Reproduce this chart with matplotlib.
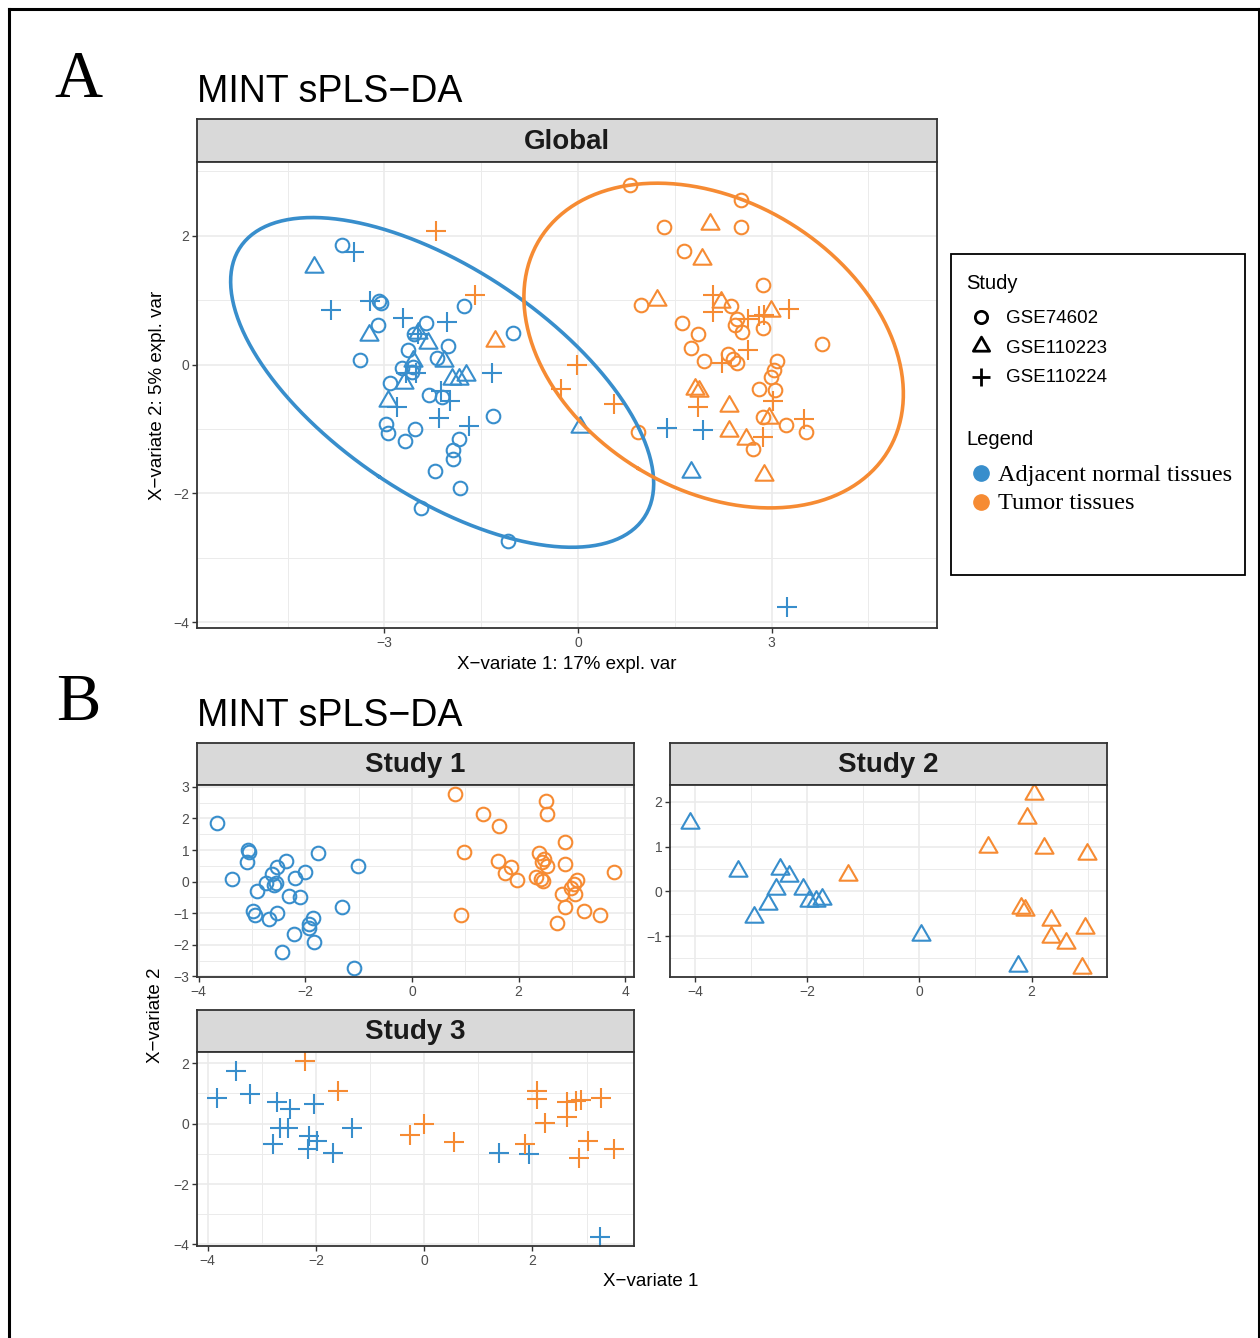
import numpy as np
import matplotlib
matplotlib.use("Agg")
import matplotlib.pyplot as plt
from matplotlib.path import Path
from matplotlib.patches import Rectangle, Polygon
from matplotlib.lines import Line2D

plt.rcParams['font.family'] = ['Liberation Sans', 'DejaVu Sans']

# ---------------- data ----------------
studies = ["GSE74602", "GSE110223", "GSE110224"]
classes = ["Adjacent normal tissues", "Tumor tissues"]
panel_titles = ["Study 1", "Study 2", "Study 3"]

# Study 1 (GSE74602) - circles
s1_normal_x = [-3.66, -3.08, -3.06, -3.10, -3.38, -1.77, -1.01, -2.36, -2.54, -2.63,
               -2.73, -2.58, -2.56, -2.91, -2.19, -2.01, -2.31, -2.11, -2.98, -2.94,
               -2.68, -2.53, -1.85, -1.94, -1.94, -1.32, -2.21, -1.83, -2.43, -1.08]
s1_normal_y = [1.86, 0.99, 0.95, 0.61, 0.07, 0.91, 0.49, 0.64, 0.47, 0.23,
               -0.05, -0.11, -0.04, -0.29, 0.10, 0.29, -0.47, -0.50, -0.92, -1.07,
               -1.18, -1.00, -1.16, -1.33, -1.47, -0.80, -1.66, -1.91, -2.22, -2.74]
s1_tumor_x = [0.81, 2.52, 2.53, 1.34, 1.64, 2.875, 0.97, 2.375, 2.47, 2.54,
              2.44, 2.875, 3.79, 1.61, 1.86, 1.75, 1.96, 2.33, 2.41, 2.46,
              3.09, 3.04, 2.99, 3.06, 2.81, 2.875, 3.22, 3.53, 2.71, 0.925]
s1_tumor_y = [2.78, 2.55, 2.13, 2.13, 1.76, 1.24, 0.93, 0.91, 0.70, 0.51,
              0.61, 0.57, 0.32, 0.64, 0.47, 0.26, 0.05, 0.16, 0.09, 0.02,
              0.05, -0.09, -0.19, -0.40, -0.38, -0.81, -0.94, -1.05, -1.31, -1.05]

# Study 2 (GSE110223) - triangles
s2_normal_x = [-4.09, -3.24, -2.48, -2.32, -2.56, -2.70, -2.95, -2.07, -1.96, -1.85, -1.73, 0.03, 1.75]
s2_normal_y = [1.52, 0.46, 0.49, 0.34, 0.05, -0.28, -0.57, 0.05, -0.22, -0.22, -0.17, -0.97, -1.67]
s2_tumor_x = [-1.28, 2.04, 1.92, 1.23, 2.22, 2.99, 1.82, 1.88, 2.34, 2.96, 2.34, 2.61, 2.89]
s2_tumor_y = [0.37, 2.18, 1.64, 1.00, 0.97, 0.83, -0.38, -0.41, -0.64, -0.83, -1.03, -1.15, -1.72]

# Study 3 (GSE110224) - crosses
s3_normal_x = [-3.47, -3.83, -3.22, -2.72, -2.48, -2.03, -2.67, -2.51, -2.80, -1.34,
               -2.13, -1.98, -2.15, -1.69, 1.38, 1.93, 3.24]
s3_normal_y = [1.75, 0.84, 0.99, 0.72, 0.48, 0.66, -0.13, -0.13, -0.66, -0.13,
               -0.41, -0.57, -0.83, -0.96, -0.98, -1.02, -3.76]
s3_tumor_x = [-2.20, -1.60, -0.27, -0.01, 0.56, 1.86, 2.09, 2.09, 2.23, 2.63,
              2.63, 2.80, 2.89, 3.27, 3.03, 3.51, 2.87]
s3_tumor_y = [2.08, 1.08, -0.38, 0.00, -0.62, -0.66, 1.08, 0.81, 0.03, 0.70,
              0.23, 0.75, 0.77, 0.86, -0.57, -0.85, -1.13]

global_xticks = [-3, 0, 3]
global_yticks = [-4, -2, 0, 2]
s1_xticks = [-4, -2, 0, 2, 4]
s1_yticks = [-3, -2, -1, 0, 1, 2, 3]
s2_xticks = [-4, -2, 0, 2]
s2_yticks = [-1, 0, 1, 2]
s3_xticks = [-4, -2, 0, 2]
s3_yticks = [-4, -2, 0, 2]

# ---------------- style ----------------
BLUE = "#388ECC"
ORANGE = "#F68B33"
W, H, DPI = 1260, 1338, 100

TRI = Path([(0, 1.555), (1.347, -0.778), (-1.347, -0.778), (0, 1.555)],
           [Path.MOVETO, Path.LINETO, Path.LINETO, Path.CLOSEPOLY])
MARK = {0: dict(marker='o', ms=9.8), 1: dict(marker=TRI, ms=15.0), 2: dict(marker='+', ms=14.5)}
MEW = 1.5

fig = plt.figure(figsize=(W / DPI, H / DPI), dpi=DPI)
fig.patch.set_facecolor('white')


def add_ax(l, t, r, b):
    return fig.add_axes([l / W, 1 - b / H, (r - l) / W, (b - t) / H])


def fig_xy(px, py):
    return px / W, 1 - py / H


def strip(l, t, r, b, label):
    ax = add_ax(l, t, r, b)
    ax.set_facecolor("#D9D9D9")
    ax.set_xticks([])
    ax.set_yticks([])
    for s in ax.spines.values():
        s.set_color("#333333")
        s.set_linewidth(1.3)
    ax.text(0.5, 0.47, label, ha='center', va='center', fontsize=20, fontweight='bold',
            color='#1A1A1A', transform=ax.transAxes)
    return ax


def minor_between(ticks, lo, hi):
    step = ticks[1] - ticks[0]
    m = np.arange(ticks[0] - step / 2, ticks[-1] + step, step)
    return [v for v in m if lo <= v <= hi]


def style_panel(ax, xticks, yticks, xlim, ylim):
    ax.set_xlim(xlim)
    ax.set_ylim(ylim)
    ax.set_xticks(xticks)
    ax.set_yticks(yticks)
    ax.set_xticks(minor_between(xticks, *xlim), minor=True)
    ax.set_yticks(minor_between(yticks, *ylim), minor=True)
    ax.grid(which='major', color='#EBEBEB', lw=1.2)
    ax.grid(which='minor', color='#EBEBEB', lw=0.7)
    ax.set_axisbelow(True)
    ax.tick_params(which='major', length=3.5, width=1.0, color='#333333',
                   labelsize=10, labelcolor='#4D4D4D', pad=2)
    ax.tick_params(which='minor', length=0)
    for s in ax.spines.values():
        s.set_color("#333333")
        s.set_linewidth(1.3)


def expand(vals, f=0.05):
    lo, hi = min(vals), max(vals)
    d = (hi - lo) * f
    return (lo - d, hi + d)


def conf_ellipse(x, y, n=300):
    x = np.asarray(x); y = np.asarray(y)
    c = np.cov(x, y)
    vals, vecs = np.linalg.eigh(c)
    t = np.sqrt(-2 * np.log(0.05))
    a = np.linspace(0, 2 * np.pi, n)
    circ = np.stack([np.cos(a), np.sin(a)])
    pts = vecs @ (np.sqrt(vals)[:, None] * circ) * t
    return pts[0] + x.mean(), pts[1] + y.mean()


study_data = [
    (s1_normal_x, s1_normal_y, s1_tumor_x, s1_tumor_y),
    (s2_normal_x, s2_normal_y, s2_tumor_x, s2_tumor_y),
    (s3_normal_x, s3_normal_y, s3_tumor_x, s3_tumor_y),
]


def draw_points(ax, k):
    nx, ny, tx, ty = study_data[k]
    m = MARK[k]
    ax.plot(nx, ny, ls='none', marker=m['marker'], ms=m['ms'], mfc='none', mec=BLUE, mew=MEW)
    ax.plot(tx, ty, ls='none', marker=m['marker'], ms=m['ms'], mfc='none', mec=ORANGE, mew=MEW)


# ---------------- outer frame ----------------
for xs, ys in [([9, 9], [9, H]), ([9, 1259], [9, 9]), ([1259, 1259], [9, H])]:
    fig.add_artist(Line2D([v / W for v in xs], [1 - v / H for v in ys], color='black', lw=2.2))

# panel letters & titles
fig.text(*fig_xy(78, 97), "A", family=['Liberation Serif'], fontsize=48, ha='center', va='baseline')
fig.text(*fig_xy(78, 720), "B", family=['Liberation Serif'], fontsize=48, ha='center', va='baseline')
fig.text(*fig_xy(197, 102), "MINT sPLS\u2212DA", fontsize=27, ha='left', va='baseline')
fig.text(*fig_xy(197, 726), "MINT sPLS\u2212DA", fontsize=27, ha='left', va='baseline')

# ---------------- Global panel ----------------
all_nx = s1_normal_x + s2_normal_x + s3_normal_x
all_ny = s1_normal_y + s2_normal_y + s3_normal_y
all_tx = s1_tumor_x + s2_tumor_x + s3_tumor_x
all_ty = s1_tumor_y + s2_tumor_y + s3_tumor_y
ex_n, ey_n = conf_ellipse(all_nx, all_ny)
ex_t, ey_t = conf_ellipse(all_tx, all_ty)

strip(197, 119, 937, 162, "Global")
axg = add_ax(197, 162, 937, 628)
gx = list(all_nx) + list(all_tx) + list(ex_n) + list(ex_t)
gy = list(all_ny) + list(all_ty) + list(ey_n) + list(ey_t)
style_panel(axg, global_xticks, global_yticks, expand(gx), expand(gy))
for k in range(3):
    draw_points(axg, k)
axg.plot(ex_n, ey_n, color=BLUE, lw=2.6)
axg.plot(ex_t, ey_t, color=ORANGE, lw=2.6)
fig.text(*fig_xy(567, 669), "X\u2212variate 1: 17% expl. var", fontsize=13.5, ha='center',
         va='baseline', color='black')
fig.text(*fig_xy(157, 395), "X\u2212variate 2: 5% expl. var", fontsize=13.5, ha='center',
         va='center', rotation=90, color='black')

# legend box
fig.add_artist(Rectangle((951 / W, 1 - 575 / H), (1245 - 951) / W, (575 - 254) / H,
                         transform=fig.transFigure, fill=False, ec='black', lw=1.3))
fig.text(*fig_xy(966, 289), "Study", fontsize=14.5, ha='left', va='baseline')
leg_y = [317, 346, 377]
leg_base = [323, 353, 382]
for k in range(3):
    m = MARK[k]
    fx_, fy_ = fig_xy(981, leg_y[k])
    fig.add_artist(Line2D([fx_], [fy_], ls='none', marker=m['marker'], ms=m['ms'] * 0.9,
                          mfc='none', mec='black', mew=2.0))
    fig.text(*fig_xy(1006, leg_base[k]), studies[k], fontsize=13.5, ha='left', va='baseline')
fig.text(*fig_xy(966, 445), "Legend", fontsize=14.5, ha='left', va='baseline')
for i, (col, yy, yb) in enumerate([(BLUE, 473, 481), (ORANGE, 502, 509)]):
    fx_, fy_ = fig_xy(981, yy)
    fig.add_artist(Line2D([fx_], [fy_], ls='none', marker='o', ms=11, mfc=col, mec=col))
    fig.text(*fig_xy(998, yb), classes[i], family=['Liberation Serif'], fontsize=17.5,
             ha='left', va='baseline')

# ---------------- Study panels ----------------
panel_boxes = [
    ((197, 743, 634, 785), (197, 785, 634, 977), s1_xticks, s1_yticks),
    ((670, 743, 1107, 785), (670, 785, 1107, 977), s2_xticks, s2_yticks),
    ((197, 1010, 634, 1052), (197, 1052, 634, 1246), s3_xticks, s3_yticks),
]
for k, (sb, ab, xt, yt) in enumerate(panel_boxes):
    strip(*sb, panel_titles[k])
    ax = add_ax(*ab)
    nx, ny, tx, ty = study_data[k]
    style_panel(ax, xt, yt, expand(nx + tx), expand(ny + ty))
    draw_points(ax, k)

fig.text(*fig_xy(651, 1286), "X\u2212variate 1", fontsize=13.5, ha='center', va='baseline')
fig.text(*fig_xy(155, 1015), "X\u2212variate 2", fontsize=13.5, ha='center', va='center', rotation=90)

fig.savefig("out.png", dpi=DPI)
